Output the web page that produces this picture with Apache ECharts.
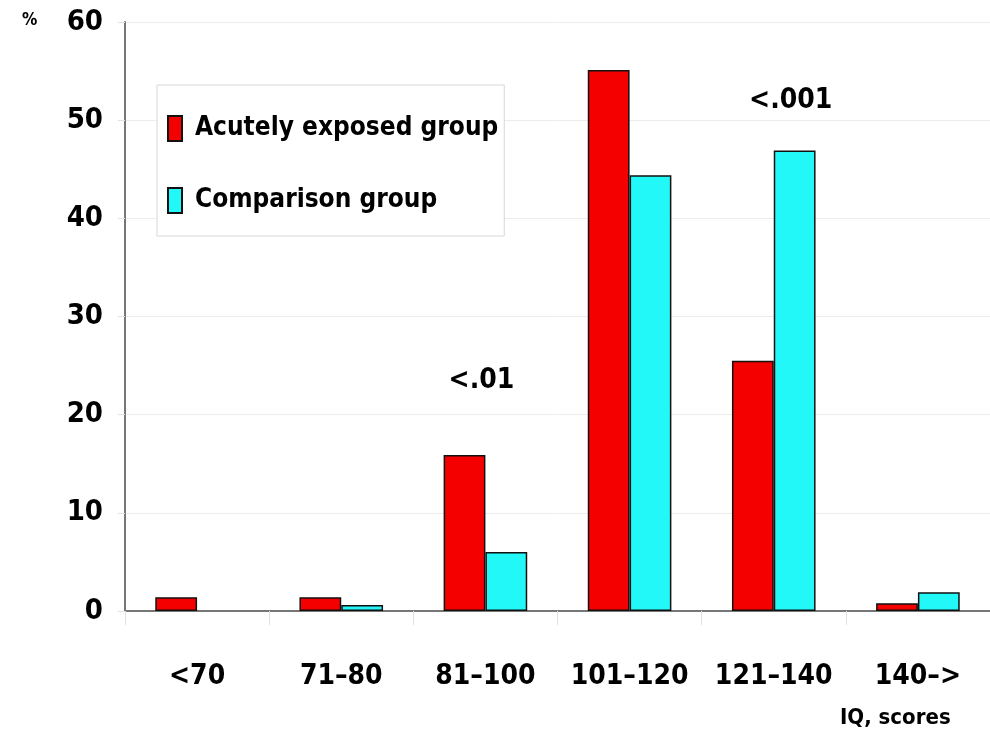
<!DOCTYPE html>
<html>
<head>
<meta charset="utf-8">
<script src="https://cdn.jsdelivr.net/npm/echarts@6/dist/echarts.min.js"></script>
<style>html,body{margin:0;padding:0;background:#fff}#c{width:990px;height:739px}</style>
</head>
<body>
<div id="c"></div>
<script>
const categories = ['<70', '71–80', '81–100', '101–120', '121–140', '140–>'];
const exposedValues = [1.4, 1.4, 15.9, 55.1, 25.5, 0.8];
const comparisonValues = ['-', 0.6, 6.0, 44.4, 46.9, 1.9];
const seriesNames = ['Acutely exposed group', 'Comparison group'];
const yTicks = [0, 10, 20, 30, 40, 50, 60];
const annotationTexts = ['<.01', '<.001'];
const annotationCategories = ['81–100', '121–140'];
const annotationValues = [23.5, 52];
const annotationShift = [-4, 17];
const FONT = '"DejaVu Sans Condensed", "DejaVu Sans", sans-serif';

const chart = echarts.init(document.getElementById('c'));
chart.setOption({
  backgroundColor: '#ffffff',
  animation: false,
  grid: { left: 125, right: -5, top: 22, bottom: 128 },
  legend: {
    orient: 'vertical', left: 157, top: 85,
    backgroundColor: '#fff', borderColor: '#d8d8d8', borderWidth: 1,
    padding: [30, 6, 22, 10], itemGap: 45,
    itemWidth: 14, itemHeight: 25,
    textStyle: { fontFamily: FONT, fontWeight: 'bold', fontSize: 26, color: '#000', padding: [0, 0, 0, 8] },
    data: seriesNames.map(n => ({ name: n, icon: 'rect' }))
  },
  xAxis: {
    type: 'category', data: categories,
    axisLine: { lineStyle: { color: '#777', width: 2 } },
    axisTick: { show: true, length: 14, lineStyle: { color: '#e2e2e2' } },
    axisLabel: { interval: 0, margin: 52, fontFamily: FONT, fontWeight: 'bold', fontSize: 28, color: '#000' }
  },
  yAxis: {
    type: 'value', min: 0, max: 60, interval: 10,
    axisLine: { show: true, lineStyle: { color: '#777', width: 2 } },
    axisTick: { show: true, length: 7, lineStyle: { color: '#e2e2e2' } },
    splitLine: { lineStyle: { color: '#ececec' } },
    axisLabel: { margin: 22, fontFamily: FONT, fontWeight: 'bold', fontSize: 29, color: '#000',
      formatter: v => yTicks.includes(v) ? String(v) : '' }
  },
  series: [
    {
      name: seriesNames[0], type: 'bar', data: exposedValues,
      barGap: 0, barCategoryGap: '42%',
      itemStyle: { color: '#f50000', borderColor: '#111', borderWidth: 1.5 }
    },
    {
      name: seriesNames[1], type: 'bar', data: comparisonValues,
      itemStyle: { color: '#22f8f8', borderColor: '#111', borderWidth: 1.5 }
    }
  ]
});

const annGraphics = annotationTexts.map((t, i) => {
  const p = chart.convertToPixel({ gridIndex: 0 }, [annotationCategories[i], annotationValues[i]]);
  return {
    type: 'text', x: p[0] + annotationShift[i], y: p[1],
    style: { text: t, font: 'bold 28px ' + FONT, fill: '#000', align: 'center', verticalAlign: 'middle' }
  };
});
chart.setOption({
  graphic: [
    { type: 'text', left: 22, top: 12, style: { text: '%', font: 'bold 17px ' + FONT, fill: '#000' } },
    { type: 'text', left: 840, top: 707, style: { text: 'IQ, scores', font: 'bold 22px ' + FONT, fill: '#000' } }
  ].concat(annGraphics)
});
</script>
</body>
</html>
